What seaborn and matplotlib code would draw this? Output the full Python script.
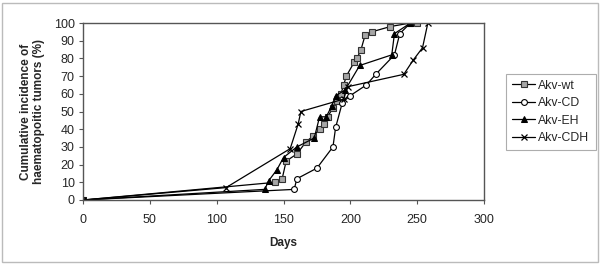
import matplotlib
matplotlib.use("Agg")
import matplotlib.pyplot as plt
import seaborn as sns
import pandas as pd
from matplotlib.patches import Rectangle

sns.set_theme(style="white")
plt.rcParams['font.family'] = ['Liberation Sans', 'DejaVu Sans']

wt_days = [0, 144, 149, 152, 160, 167, 172, 177, 180, 183, 187, 190, 193, 195, 197, 203, 205, 208, 211, 216, 230, 245, 250]
wt_vals = [0, 10, 12, 22, 26, 33, 36, 40, 43, 47, 52, 56, 60, 65, 70, 78, 80, 85, 93, 95, 98, 100, 100]

cd_days = [0, 158, 160, 175, 187, 189, 194, 200, 212, 219, 233, 237, 245]
cd_vals = [0, 6, 12, 18, 30, 41, 55, 59, 65, 71, 82, 94, 100]

eh_days = [0, 136, 139, 145, 150, 160, 173, 177, 182, 186, 189, 196, 207, 231, 233, 245]
eh_vals = [0, 6, 11, 17, 24, 30, 35, 47, 47, 53, 59, 62, 76, 82, 94, 100]

cdh_days = [0, 107, 155, 161, 163, 195, 198, 240, 247, 254, 258]
cdh_vals = [0, 7, 29, 43, 50, 57, 64, 71, 79, 86, 100]

series = ["Akv-wt", "Akv-CD", "Akv-EH", "Akv-CDH"]
x_ticks = [0, 50, 100, 150, 200, 250, 300]
y_ticks = [0, 10, 20, 30, 40, 50, 60, 70, 80, 90, 100]

data = {
    "Akv-wt": (wt_days, wt_vals),
    "Akv-CD": (cd_days, cd_vals),
    "Akv-EH": (eh_days, eh_vals),
    "Akv-CDH": (cdh_days, cdh_vals),
}
styles = {
    "Akv-wt": dict(marker="s", markerfacecolor="#a6a6a6", markeredgecolor="#333333", markersize=4.2, markeredgewidth=0.8),
    "Akv-CD": dict(marker="o", markerfacecolor="white", markeredgecolor="black", markersize=4.2, markeredgewidth=0.8),
    "Akv-EH": dict(marker="^", markerfacecolor="black", markeredgecolor="black", markersize=4.6),
    "Akv-CDH": dict(marker="x", markerfacecolor="none", markeredgecolor="black", markersize=5, markeredgewidth=0.9),
}

fig = plt.figure(figsize=(6.0, 2.65), dpi=100)
ax = fig.add_axes([83/600, 1-200/265, (484-83)/600, (200-23)/265])

for name in series:
    d, v = data[name]
    df = pd.DataFrame({"Days": d, "val": v})
    sns.lineplot(data=df, x="Days", y="val", ax=ax, color="black", linewidth=0.9,
                 sort=False, estimator=None, label=name, **styles[name])

ax.set_xlim(0, 300)
ax.set_ylim(0, 100)
ax.set_xticks(x_ticks)
ax.set_yticks(y_ticks)
ax.tick_params(axis="both", labelsize=9, length=3, width=0.8, direction="out",
               bottom=True, left=True, color="#555555")
ax.tick_params(axis="x", pad=7)
ax.tick_params(axis="y", pad=3)
for s in ax.spines.values():
    s.set_color("#555555")
    s.set_linewidth(1.0)
    s.set_visible(True)
ax.set_xlabel("Days", fontsize=8.5, fontweight="bold", labelpad=8)
ax.set_ylabel("Cumulative incidence of\nhaematopoitic tumors (%)", fontsize=8.5,
              fontweight="bold", labelpad=6)

leg = ax.legend(loc="center left", bbox_to_anchor=(506/600, 1-112/265),
                bbox_transform=fig.transFigure, frameon=True, fontsize=8.8,
                fancybox=False, borderpad=0.5, handlelength=1.9, handletextpad=0.25,
                labelspacing=0.45, borderaxespad=0)
leg.get_frame().set_edgecolor("#999999")
leg.get_frame().set_linewidth(0.8)

fig.patches.append(Rectangle((2/600, 3/265), 596/600, 259/265, transform=fig.transFigure,
                             fill=False, edgecolor="#bbbbbb", linewidth=1.0))

fig.savefig("out.png", dpi=100)
